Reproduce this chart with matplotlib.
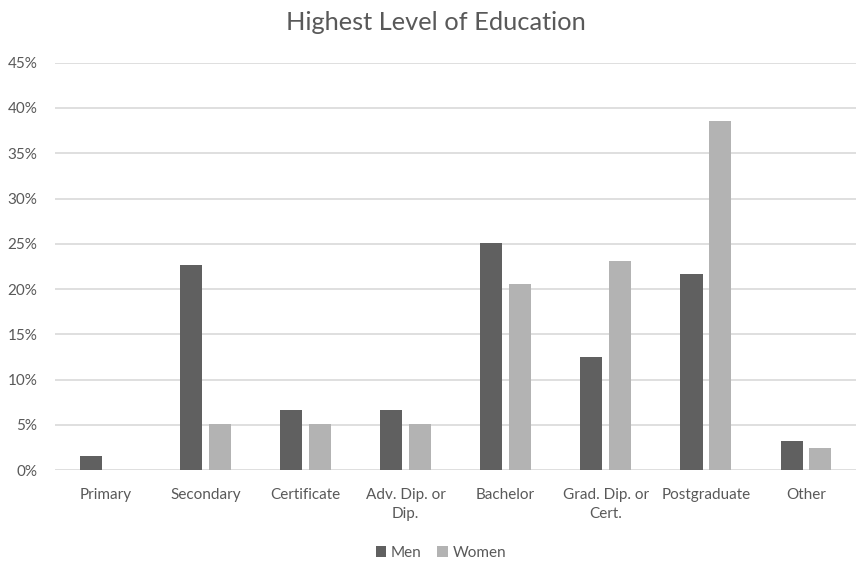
import matplotlib
matplotlib.use("Agg")
import matplotlib.pyplot as plt
import numpy as np
from matplotlib.ticker import FuncFormatter, MultipleLocator

categories = ["Primary", "Secondary", "Certificate", "Adv. Dip. or\nDip.", "Bachelor",
              "Grad. Dip. or\nCert.", "Postgraduate", "Other"]
men = [1.6, 22.6, 6.6, 6.6, 25.1, 12.5, 21.7, 3.2]
women = [0.0, 5.1, 5.1, 5.1, 20.6, 23.1, 38.6, 2.4]
series_names = ["Men", "Women"]

plt.rcParams['font.family'] = ['Lato', 'DejaVu Sans']
txt = "#595959"

fig = plt.figure(figsize=(8.56, 5.65), dpi=100)
ax = fig.add_axes([0.0648, 0.168, 0.935, 0.721])

x = np.arange(len(categories))
w = 0.22
gap = 0.065
ax.bar(x - (w + gap) / 2, men, width=w, color="#606060", label=series_names[0], zorder=3)
ax.bar(x + (w + gap) / 2, women, width=w, color="#b3b3b3", label=series_names[1], zorder=3)

ax.set_xlim(-0.5, len(categories) - 0.5)
ax.set_ylim(0, 45)
ax.yaxis.set_major_locator(MultipleLocator(5))
ax.yaxis.set_major_formatter(FuncFormatter(lambda v, p: f"{int(round(v))}%"))
ax.grid(axis="y", color="#d9d9d9", linewidth=1.2, zorder=0)
for s in ax.spines.values():
    s.set_visible(False)
ax.tick_params(axis="both", length=0, colors=txt, labelsize=11)
ax.tick_params(axis="y", pad=13)
ax.tick_params(axis="x", pad=13)
ax.set_xticks(x)
ax.set_xticklabels(categories, color=txt, linespacing=1.45)

fig.text(0.509, 0.960, "Highest Level of Education", ha="center", va="center",
         fontsize=18.3, color=txt)

leg = fig.legend(loc="center", bbox_to_anchor=(0.515, 0.021), ncol=2, frameon=False,
                 fontsize=11, handlelength=0.7, handleheight=0.7, handletextpad=0.3,
                 columnspacing=1.0)
for t in leg.get_texts():
    t.set_color(txt)

fig.savefig("out.png", dpi=100)
